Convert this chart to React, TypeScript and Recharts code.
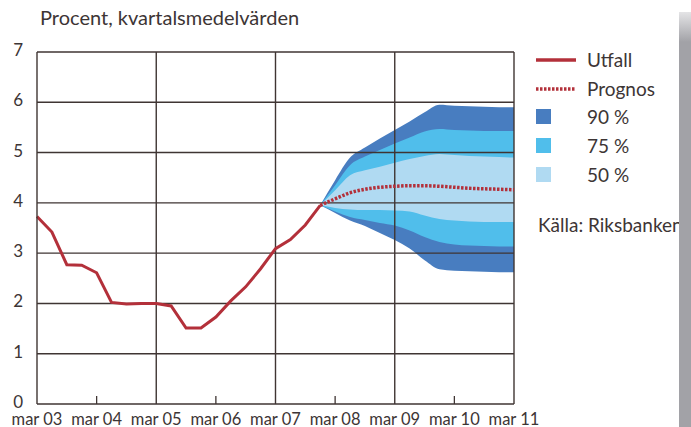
import React from "react";
import {
  ComposedChart,
  Line,
  Area,
  XAxis,
  YAxis,
  ReferenceLine,
} from "recharts";

// kvartal: 0 = mar 03 ... 32 = mar 11
const tickLabels = ["mar 03", "mar 04", "mar 05", "mar 06", "mar 07", "mar 08", "mar 09", "mar 10", "mar 11"];
const xTicks = [0, 4, 8, 12, 16, 20, 24, 28, 32];
const yTicks = [0, 1, 2, 3, 4, 5, 6, 7];

const utfall = [3.73, 3.42, 2.77, 2.76, 2.61, 2.02, 1.99, 2.0, 2.0, 1.95, 1.51, 1.51, 1.73, 2.05, 2.33, 2.69, 3.09, 3.27, 3.56, 3.95];

// prognos från dec 07 (index 19)
const prognosStart = 19;
const prognos = [3.95, 4.08, 4.2, 4.27, 4.31, 4.33, 4.34, 4.34, 4.33, 4.31, 4.29, 4.28, 4.27, 4.26];
const hi90 = [3.95, 4.45, 4.9, 5.1, 5.28, 5.45, 5.62, 5.8, 5.95, 5.93, 5.92, 5.91, 5.9, 5.9];
const lo90 = [3.95, 3.8, 3.65, 3.54, 3.4, 3.26, 3.09, 2.86, 2.68, 2.65, 2.64, 2.63, 2.62, 2.62];
const hi75 = [3.95, 4.35, 4.75, 4.92, 5.05, 5.18, 5.3, 5.42, 5.47, 5.45, 5.44, 5.43, 5.43, 5.43];
const lo75 = [3.95, 3.83, 3.72, 3.66, 3.6, 3.55, 3.45, 3.32, 3.22, 3.17, 3.15, 3.14, 3.13, 3.13];
const hi50 = [3.95, 4.25, 4.55, 4.65, 4.72, 4.8, 4.87, 4.93, 4.97, 4.95, 4.93, 4.92, 4.91, 4.9];
const lo50 = [3.95, 3.9, 3.87, 3.86, 3.86, 3.85, 3.83, 3.75, 3.68, 3.65, 3.63, 3.62, 3.62, 3.62];

const RED = "#b3303a";
const C90 = "#487dc0";
const C75 = "#50beeb";
const C50 = "#b0daf2";
const GRID = "#3f3533";
const TEXT = "#3d3535";
const FONT = "Lato, 'Open Sans', sans-serif";

const data = Array.from({ length: 33 }, (_, i) => {
  const j = i - prognosStart;
  const f = j >= 0;
  return {
    q: i,
    utfall: i < utfall.length ? utfall[i] : null,
    prognos: f ? prognos[j] : null,
    b90: f ? [lo90[j], hi90[j]] : null,
    b75: f ? [lo75[j], hi75[j]] : null,
    b50: f ? [lo50[j], hi50[j]] : null,
  };
});

const XTick = (props: any) => {
  const { x, y, payload } = props;
  const idx = xTicks.indexOf(payload.value);
  const axisY = y - 9;
  return (
    <g>
      {idx % 2 === 1 && (
        <line x1={x} x2={x} y1={axisY} y2={axisY - 8} stroke={GRID} strokeWidth={1.3} />
      )}
      <text x={x} y={y + 11.5} textAnchor="middle" fontSize={16.5} fontFamily={FONT} fill={TEXT}>
        {tickLabels[idx]}
      </text>
    </g>
  );
};

const legendFont = { fontSize: 19, fontFamily: FONT, fill: TEXT };

export default function App() {
  return (
    <div style={{ position: "absolute", left: 0, top: 0, width: 691, height: 427, background: "#fff", overflow: "hidden" }}>
      <div
        style={{
          position: "absolute",
          left: 40,
          top: 5,
          fontSize: 20,
          fontFamily: FONT,
          color: TEXT,
          whiteSpace: "nowrap",
        }}
      >
        Procent, kvartalsmedelvärden
      </div>
      <ComposedChart
        width={691}
        height={427}
        data={data}
        margin={{ top: 52, right: 177, bottom: 0, left: 0 }}
      >
        <XAxis
          dataKey="q"
          type="number"
          domain={[0, 32]}
          ticks={xTicks}
          interval={0}
          height={23}
          tickSize={0}
          tickMargin={9}
          tickLine={false}
          axisLine={{ stroke: GRID, strokeWidth: 1.4 }}
          tick={<XTick />}
        />
        <YAxis
          type="number"
          domain={[0, 7]}
          ticks={yTicks}
          width={37}
          tickLine={false}
          tickMargin={8}
          axisLine={{ stroke: GRID, strokeWidth: 1.4 }}
          tick={{ fontSize: 17, fontFamily: FONT, fill: TEXT, dy: -2 }}
        />
        <Area dataKey="b90" type="monotone" stroke="none" fill={C90} fillOpacity={1} isAnimationActive={false} />
        <Area dataKey="b75" type="monotone" stroke="none" fill={C75} fillOpacity={1} isAnimationActive={false} />
        <Area dataKey="b50" type="monotone" stroke="none" fill={C50} fillOpacity={1} isAnimationActive={false} />
        {yTicks.slice(1).map((v) => (
          <ReferenceLine key={`h${v}`} y={v} stroke={GRID} strokeWidth={1.4} />
        ))}
        {[8, 16, 24, 32].map((v) => (
          <ReferenceLine key={`v${v}`} x={v} stroke={GRID} strokeWidth={1.4} />
        ))}
        <Line dataKey="utfall" type="linear" stroke={RED} strokeWidth={3} dot={false} isAnimationActive={false} />
        <Line
          dataKey="prognos"
          type="monotone"
          stroke={RED}
          strokeWidth={3.5}
          strokeDasharray="2.5 1.5"
          dot={false}
          isAnimationActive={false}
        />
      </ComposedChart>
      <svg width={160} height={200} style={{ position: "absolute", left: 530, top: 40 }}>
        <line x1={6} x2={46} y1={20} y2={20} stroke={RED} strokeWidth={3.5} />
        <text x={57} y={26.5} {...legendFont}>Utfall</text>
        <line x1={6} x2={46} y1={49} y2={49} stroke={RED} strokeWidth={3.5} strokeDasharray="2.5 1.5" />
        <text x={57} y={55.5} {...legendFont}>Prognos</text>
        <rect x={6} y={69} width={15} height={15} fill={C90} />
        <text x={57} y={83.5} {...legendFont}>90 %</text>
        <rect x={6} y={98} width={15} height={15} fill={C75} />
        <text x={57} y={112.5} {...legendFont}>75 %</text>
        <rect x={6} y={127} width={15} height={15} fill={C50} />
        <text x={57} y={141.5} {...legendFont}>50 %</text>
        <text x={8} y={192} {...legendFont}>Källa: Riksbanken</text>
      </svg>
      <div
        style={{
          position: "absolute",
          left: 679,
          top: 12,
          width: 12,
          height: 415,
          background: "linear-gradient(to bottom, #e4e4e6 0px, #a2a2a7 30px, #a2a2a7 100%)",
        }}
      />
    </div>
  );
}
